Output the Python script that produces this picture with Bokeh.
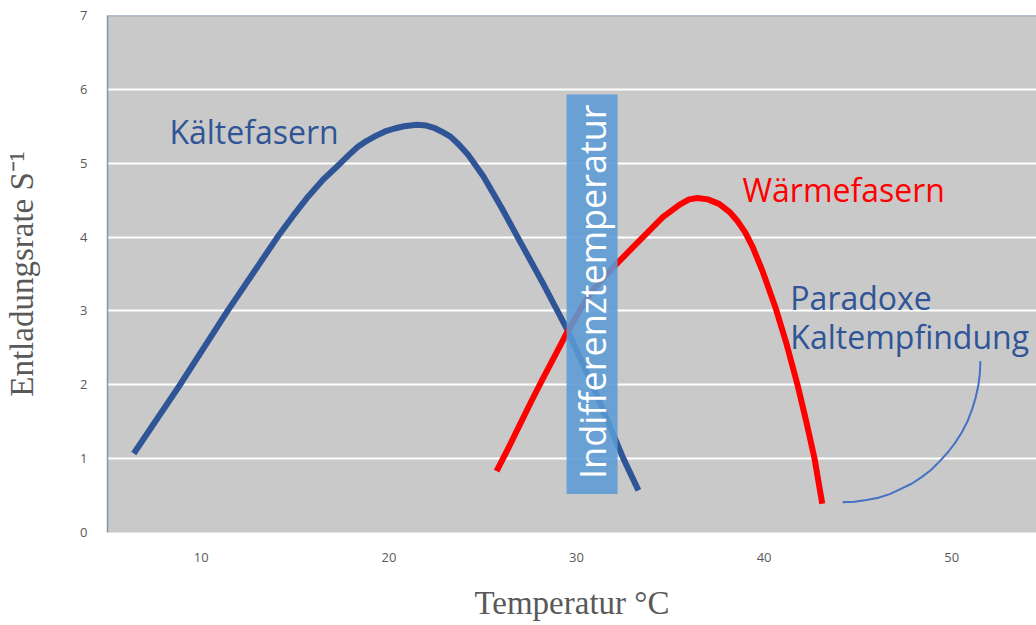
from bokeh.plotting import figure
from bokeh.models import Range1d, Span, FixedTicker, ColumnDataSource
from bokeh.core.properties import value
from bokeh.embed import file_html
from bokeh.resources import INLINE

# ---- data ----
temp_kalt = [6.4, 8.84, 11.4, 14.06, 14.9, 15.7, 16.5, 17.42, 17.9, 18.33, 18.8, 19.3, 19.8, 20.3, 20.8, 21.5,
             22.0, 22.4, 22.8, 23.28, 23.7, 24.2, 24.6, 25.04, 26.0, 26.86, 28.2, 29.52, 30.85, 32.5, 33.3]
rate_kalt = [1.07, 1.99, 3.0, 4.0, 4.29, 4.55, 4.78, 5.0, 5.12, 5.22, 5.30, 5.37, 5.43, 5.47, 5.50, 5.52,
             5.51, 5.48, 5.43, 5.36, 5.26, 5.12, 4.98, 4.82, 4.40, 4.0, 3.38, 2.74, 2.0, 1.0, 0.57]

temp_warm = [25.74, 26.4, 27.0, 27.6, 28.2, 28.9, 29.52, 30.2, 30.7, 31.2, 31.7, 32.19, 33.0, 33.78, 34.6, 35.5,
             36.0, 36.45, 37.0, 37.6, 38.2, 38.6, 39.0, 39.4, 39.9, 40.6, 41.2, 41.78, 42.25, 42.69, 43.1]
rate_warm = [0.83, 1.16, 1.47, 1.78, 2.08, 2.42, 2.72, 3.02, 3.22, 3.38, 3.52, 3.65, 3.86, 4.06, 4.27, 4.44,
             4.51, 4.53, 4.51, 4.45, 4.33, 4.21, 4.06, 3.86, 3.55, 3.05, 2.55, 2.0, 1.5, 1.0, 0.39]

arc_temp = [51.53, 51.50, 51.42, 51.28, 51.09, 50.85, 50.55, 50.20, 49.81, 49.38, 48.91, 48.40, 47.86,
            47.29, 46.70, 46.09, 45.46, 44.82, 44.18]
arc_rate = [2.32, 2.15, 1.99, 1.83, 1.67, 1.51, 1.36, 1.22, 1.09, 0.97, 0.85, 0.75, 0.66,
            0.59, 0.52, 0.47, 0.44, 0.415, 0.41]

indiff_left, indiff_right = [29.47], [32.19]
indiff_bottom, indiff_top = [0.52], [5.93]

x_ticks = [10, 20, 30, 40, 50]
y_ticks = [0, 1, 2, 3, 4, 5, 6, 7]

label_texts = ["Kältefasern", "Wärmefasern", "Paradoxe", "Kaltempfindung"]
label_x = [8.3, 38.85, 41.4, 41.4]
label_y = [5.43, 4.64, 3.18, 2.66]
label_colors = ["#2f5597", "#ff0000", "#2f5597", "#2f5597"]

# ---- figure ----
p = figure(width=1036, height=625,
           x_range=Range1d(5, 54.52), y_range=Range1d(0, 7),
           output_backend="svg", toolbar_location=None,
           min_border_left=107, min_border_right=0, min_border_top=15, min_border_bottom=93,
           background_fill_color="#c9c9c9", border_fill_color="white",
           outline_line_color=None)

p.xgrid.visible = False
p.ygrid.grid_line_color = "white"
p.ygrid.grid_line_width = 2
p.ygrid.ticker = FixedTicker(ticks=y_ticks)

p.xaxis.ticker = FixedTicker(ticks=x_ticks)
p.yaxis.ticker = FixedTicker(ticks=y_ticks)
for ax in (p.xaxis, p.yaxis):
    ax.major_tick_line_color = None
    ax.minor_tick_line_color = None
    ax.major_label_text_font = "Open Sans"
    ax.major_label_text_font_size = "13px"
    ax.major_label_text_color = "#595959"
    ax.axis_label_text_font = "Liberation Serif"
    ax.axis_label_text_font_style = "normal"
    ax.axis_label_text_font_size = "33px"
    ax.axis_label_text_color = "#595959"

p.xaxis.axis_line_color = None
p.xaxis.major_label_standoff = 14
p.xaxis.axis_label = "Temperatur °C"
p.xaxis.axis_label_standoff = 20

p.yaxis.axis_line_color = "#8497b0"
p.yaxis.axis_line_width = 1.5
p.yaxis.major_label_standoff = 14
p.yaxis.axis_label = "Entladungsrate S⁻¹"
p.yaxis.axis_label_standoff = 37

p.add_layout(Span(location=7, dimension="width", line_color="#8497b0", line_width=1.5))

# curves
p.line(temp_kalt, rate_kalt, line_color="#2f5597", line_width=6, line_join="round")
p.line(temp_warm, rate_warm, line_color="#ff0000", line_width=6, line_join="round")
p.line(arc_temp, arc_rate, line_color="#4472c4", line_width=2, line_join="round")

# indifference band
p.quad(left=indiff_left, right=indiff_right, bottom=indiff_bottom, top=indiff_top,
       fill_color="#5b9bd5", fill_alpha=0.88, line_color=None)
p.text(x=[(indiff_left[0] + indiff_right[0]) / 2], y=[3.26], text=["Indifferenztemperatur"],
       angle=1.5707963, text_align="center", text_baseline="middle",
       text_color="white", text_font=value("Open Sans"), text_font_size="36px")

src = ColumnDataSource(dict(x=label_x, y=label_y, t=label_texts, c=label_colors))
p.text(x="x", y="y", text="t", text_color="c", source=src,
       text_align="left", text_baseline="middle",
       text_font=value("Open Sans"), text_font_size="32px")

open("out.html", "w").write(file_html(p, INLINE))
